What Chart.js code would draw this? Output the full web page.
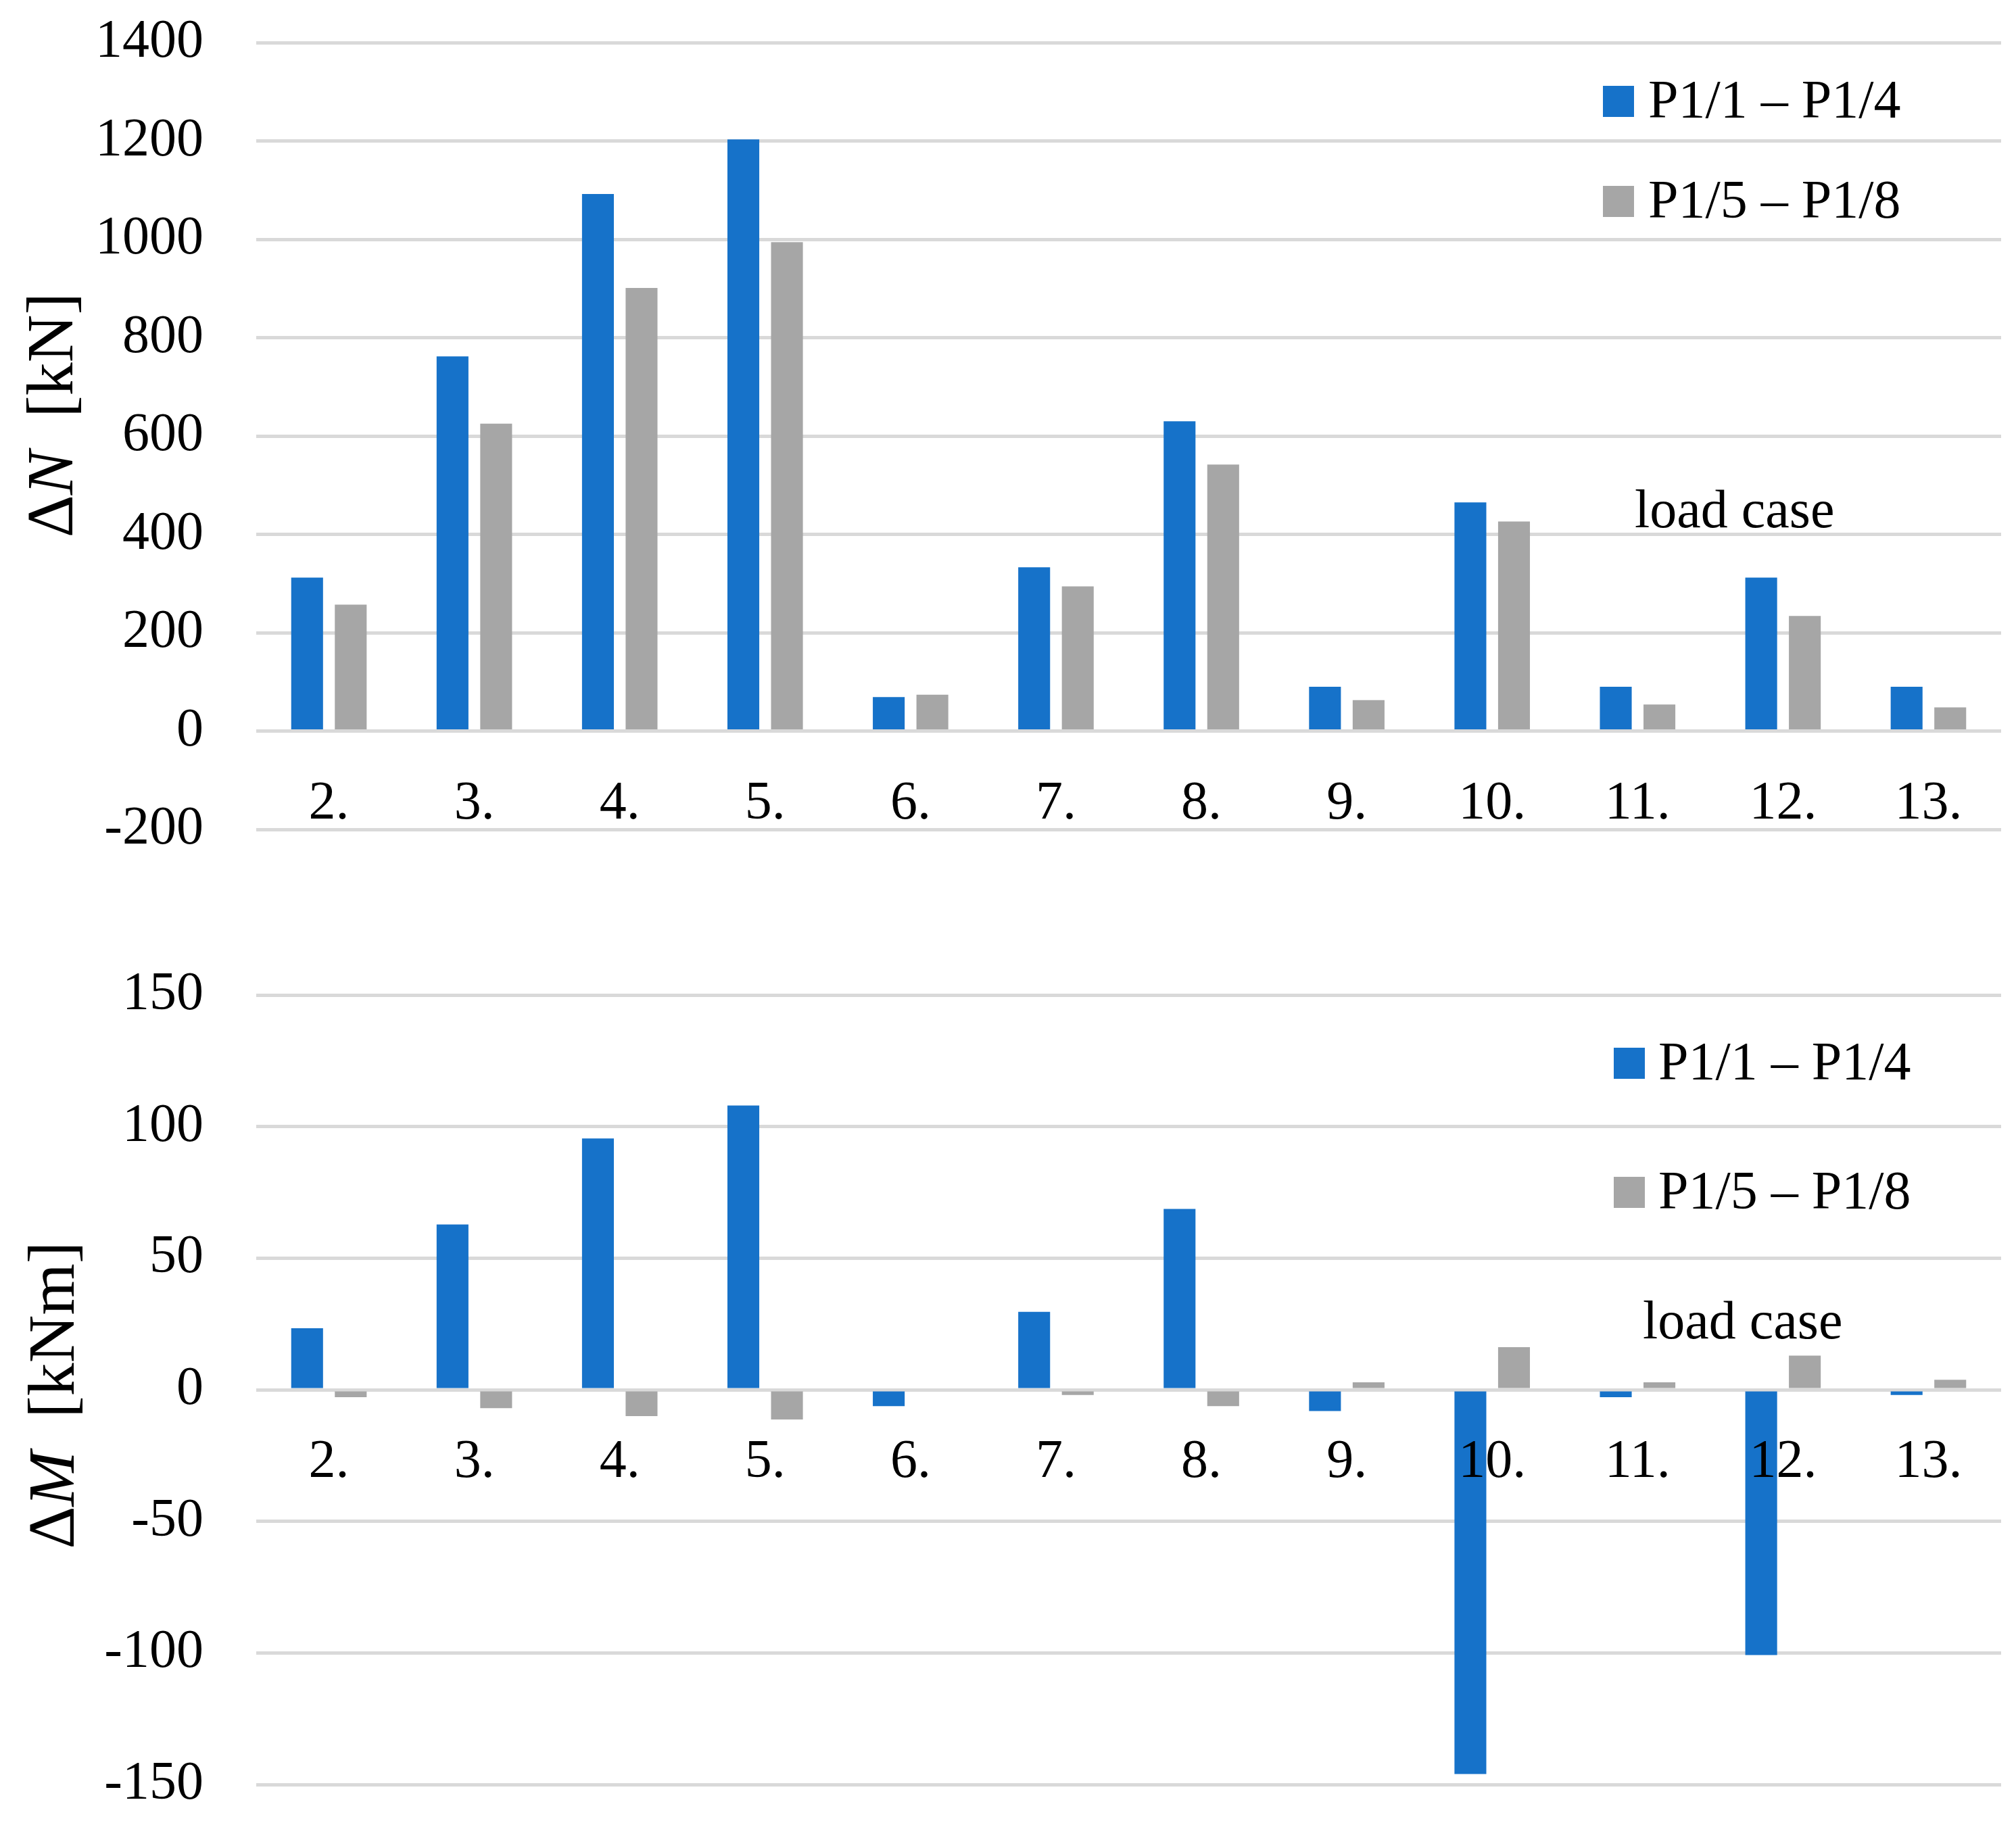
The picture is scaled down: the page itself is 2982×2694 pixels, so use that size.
<!DOCTYPE html>
<html>
<head>
<meta charset="utf-8">
<script src="https://cdn.jsdelivr.net/npm/chart.js@4.4.1/dist/chart.umd.min.js"></script>
<style>
  html, body { margin: 0; padding: 0; background: #fff; }
  #wrap { position: relative; width: 2982px; height: 2694px; }
  canvas { position: absolute; left: 0; }
  #chartN { top: 0; }
  #chartM { top: 1347px; }
</style>
</head>
<body>
<div id="wrap">
  <canvas id="chartN" width="2982" height="1347"></canvas>
  <canvas id="chartM" width="2982" height="1347"></canvas>
</div>
<script>
//DATA//
const loadCases = ["2.", "3.", "4.", "5.", "6.", "7.", "8.", "9.", "10.", "11.", "12.", "13."];
const seriesA = "P1/1 – P1/4";
const seriesB = "P1/5 – P1/8";

// delta N [kN]
const dN_A = [312, 762, 1092, 1203, 69, 333, 630, 90, 465, 90, 312, 90];
const dN_B = [257, 625, 901, 994, 74, 294, 542, 63, 426, 54, 234, 48];
const ticksN = [-200, 0, 200, 400, 600, 800, 1000, 1200, 1400];

// delta M [kNm]
const dM_A = [23.4, 62.8, 95.5, 108, -6.2, 29.6, 68.7, -8.1, -146, -2.8, -100.8, -2];
const dM_B = [-2.8, -7, -10, -11.3, 0, -2, -6.2, 2.8, 16.2, 2.8, 13, 3.8];
const ticksM = [-150, -100, -50, 0, 50, 100, 150];

const BLUE = "#1672c9";
const GRAY = "#a6a6a6";
const FONT = "'Liberation Serif', 'Times New Roman', serif";

//PLUGIN: axis title with italic letter, legend and "load case" note//
const extras = {
  id: "extras",
  afterDraw(chart, args, opts) {
    const ctx = chart.ctx;
    ctx.save();
    ctx.fillStyle = "#000";

    // rotated y title
    ctx.translate(opts.title.x, opts.title.y);
    ctx.rotate(-Math.PI / 2);
    ctx.textAlign = "left";
    ctx.textBaseline = "alphabetic";
    let total = 0;
    opts.title.parts.forEach((p) => {
      ctx.font = (p.it ? "italic " : "") + "98px " + FONT;
      total += ctx.measureText(p.t).width;
    });
    let cx = -total / 2;
    opts.title.parts.forEach((p) => {
      ctx.font = (p.it ? "italic " : "") + "98px " + FONT;
      ctx.fillText(p.t, cx, 0);
      cx += ctx.measureText(p.t).width;
    });
    ctx.setTransform(1, 0, 0, 1, 0, 0);

    // legend
    ctx.font = "80px " + FONT;
    ctx.textBaseline = "middle";
    chart.data.datasets.forEach((ds, i) => {
      const y = opts.legend.ys[i];
      ctx.fillStyle = ds.backgroundColor;
      ctx.fillRect(opts.legend.x, y - 23, 46, 46);
      ctx.fillStyle = "#000";
      ctx.fillText(ds.label, opts.legend.textX, y + 3);
    });

    // note
    ctx.textBaseline = "alphabetic";
    ctx.fillText("load case", opts.note.x, opts.note.y);
    ctx.restore();
  }
};

function makeChart(canvas, dataA, dataB, ticks, padding, extraOpts) {
  return new Chart(canvas, {
    type: "bar",
    data: {
      labels: loadCases,
      datasets: [
        { label: seriesA, data: dataA, backgroundColor: BLUE, categoryPercentage: 0.6, barPercentage: 0.73 },
        { label: seriesB, data: dataB, backgroundColor: GRAY, categoryPercentage: 0.6, barPercentage: 0.73 }
      ]
    },
    options: {
      responsive: false,
      animation: false,
      layout: { padding: padding },
      plugins: {
        legend: { display: false },
        tooltip: { enabled: false },
        extras: extraOpts
      },
      scales: {
        x: {
          position: { y: 0 },
          grid: { display: false, drawTicks: false },
          border: { display: false },
          ticks: {
            z: 1, // labels drawn over the bars
            color: "#000",
            font: { family: FONT, size: 80, lineHeight: 1.2 },
            padding: 60,
            autoSkip: false,
            maxRotation: 0
          }
        },
        y: {
          min: ticks[0],
          max: ticks[ticks.length - 1],
          afterFit: (s) => {
            s.width = 379;
            s.paddingTop = 0;
            s.paddingBottom = 0;
          },
          afterBuildTicks: (s) => { s.ticks = ticks.map((v) => ({ value: v })); },
          grid: { color: "#d9d9d9", lineWidth: 5, drawTicks: false },
          border: { display: false },
          ticks: {
            color: "#000",
            font: { family: FONT, size: 80, lineHeight: 1.2 },
            padding: 78,
            callback: (v) => String(v)
          }
        }
      }
    },
    plugins: [extras]
  });
}

makeChart(document.getElementById("chartN"), dN_A, dN_B, ticksN,
  { top: 63, bottom: 120, left: 0, right: 22 },
  {
    title: { x: 107, y: 614, parts: [{ t: "Δ" }, { t: "N", it: true }, { t: "  [kN]" }] },
    legend: { x: 2371, textX: 2438, ys: [150, 298] },
    note: { x: 2418, y: 780 }
  });

makeChart(document.getElementById("chartM"), dM_A, dM_B, ticksM,
  { top: 125, bottom: 54, left: 0, right: 22 },
  {
    title: { x: 109, y: 717, parts: [{ t: "Δ" }, { t: "M", it: true }, { t: "  [kNm]" }] },
    legend: { x: 2387, textX: 2453, ys: [226, 417] },
    note: { x: 2430, y: 633 }
  });
</script>
</body>
</html>
